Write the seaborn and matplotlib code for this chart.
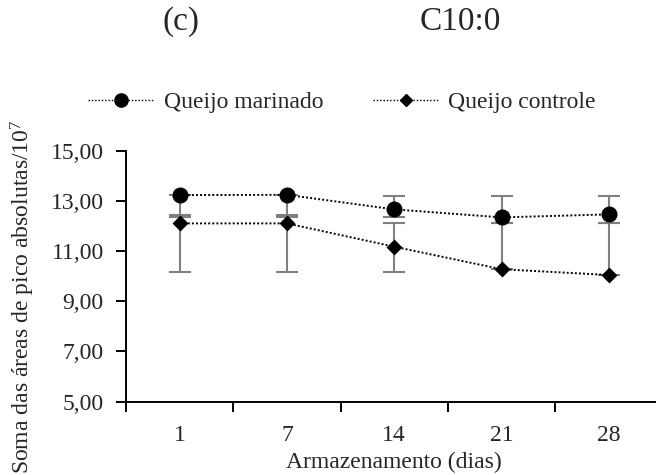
import matplotlib
matplotlib.use("Agg")
import matplotlib.pyplot as plt
from matplotlib.lines import Line2D
from matplotlib.ticker import FixedLocator, FuncFormatter
import numpy as np
import pandas as pd
import seaborn as sns

# Storage time (days) and sample groups
dias = ["1", "7", "14", "21", "28"]
amostras = ["Queijo marinado", "Queijo controle"]

# Sum of absolute peak areas / 10^7 for C10:0
marinado = [13.24, 13.25, 12.67, 12.35, 12.47]
marinado_sup = [13.24, 13.25, 13.20, 13.20, 13.20]
marinado_inf = [12.45, 12.45, 12.38, 12.13, 12.14]

controle = [12.11, 12.11, 11.18, 10.28, 10.05]
controle_sup = [12.38, 12.38, 12.14, 12.13, 12.14]
controle_inf = [10.18, 10.18, 10.18, 10.28, 10.05]

y_ticks = [5, 7, 9, 11, 13, 15]

sns.set_style("ticks")
plt.rcParams["font.family"] = ["Liberation Serif", "DejaVu Serif"]
plt.rcParams["mathtext.fontset"] = "custom"
plt.rcParams["mathtext.rm"] = "Liberation Serif"
plt.rcParams["mathtext.it"] = "Liberation Serif:italic"

df = pd.DataFrame({
    "dia": dias * 2,
    "valor": marinado + controle,
    "amostra": [amostras[0]] * len(dias) + [amostras[1]] * len(dias),
})

W, H = 656, 475
fig = plt.figure(figsize=(W / 100, H / 100), dpi=100)
ax = fig.add_axes([126 / W, 1 - 401.5 / H, 536.5 / W, 250.5 / H])

dot = (0, (1, 1.1))
pos = np.arange(len(dias))

# Error bars (asymmetric) behind the series
for vals, sup, inf in [(marinado, marinado_sup, marinado_inf),
                       (controle, controle_sup, controle_inf)]:
    v = np.array(vals)
    yerr = np.vstack([v - np.array(inf), np.array(sup) - v])
    ax.errorbar(pos, v, yerr=yerr, fmt="none", ecolor="#808080",
                elinewidth=1.5, capsize=8, capthick=1.5, zorder=1)

sns.pointplot(data=df, x="dia", y="valor", hue="amostra", order=dias,
              hue_order=amostras, palette=["black", "black"],
              markers=["o", "D"], linestyles=[":", ":"], errorbar=None,
              legend=False, ax=ax)

for ln in ax.lines:
    m = ln.get_marker()
    if m == "o":
        ln.set_markersize(9.5)
    elif m == "D":
        ln.set_markersize(6.5)
    if m in ("o", "D"):
        ln.set_linestyle(dot)
        ln.set_linewidth(1.4)
        ln.set_zorder(3)

ax.set_xlim(-0.5, len(dias) - 0.5)
ax.set_ylim(5, 15)
ax.yaxis.set_major_locator(FixedLocator(y_ticks))
ax.yaxis.set_major_formatter(FuncFormatter(lambda v, p: f"{v:.2f}".replace(".", ",")))

ax.set_xticks(pos)
ax.set_xticklabels(dias)
ax.set_xticks(np.arange(len(dias) + 1) - 0.5, minor=True)
ax.tick_params(axis="x", which="major", length=0, pad=17, labelsize=17)
ax.tick_params(axis="x", which="minor", length=7, width=1.4, color="black")
ax.tick_params(axis="y", which="major", length=7, width=1.4, pad=9,
               labelsize=17, color="black")

for s in ["top", "right"]:
    ax.spines[s].set_visible(False)
for s in ["left", "bottom"]:
    ax.spines[s].set_linewidth(1.4)
    ax.spines[s].set_color("black")

ax.set_xlabel("Armazenamento (dias)", fontsize=17)
ax.xaxis.set_label_coords(0.5, (401.5 - 462) / 250.5)
ax.xaxis.label.set_va("center")
ax.set_ylabel("")

fig.text(23 / W, 1 - 296.5 / H, "Soma das áreas de pico absolutas/10$^{7}$",
         rotation=90, ha="center", va="center", fontsize=17)

fig.text(181 / W, 1 - 22 / H, "(c)", ha="center", va="center", fontsize=24)
fig.text(460 / W, 1 - 22 / H, "C10:0", ha="center", va="center", fontsize=24)

handles = [
    Line2D([], [], color="black", ls=(0, (1, 1.4)), lw=1.0, marker="o", ms=9.5),
    Line2D([], [], color="black", ls=(0, (1, 1.4)), lw=1.0, marker="D", ms=6.5),
]
fig.legend(handles, amostras, loc="center left",
           bbox_to_anchor=(88 / W, 1 - 102 / H), ncol=2, frameon=False,
           fontsize=17, handlelength=2.8, handletextpad=0.4,
           columnspacing=2.1, borderpad=0, borderaxespad=0, numpoints=1)

fig.savefig("out.png", dpi=100)
